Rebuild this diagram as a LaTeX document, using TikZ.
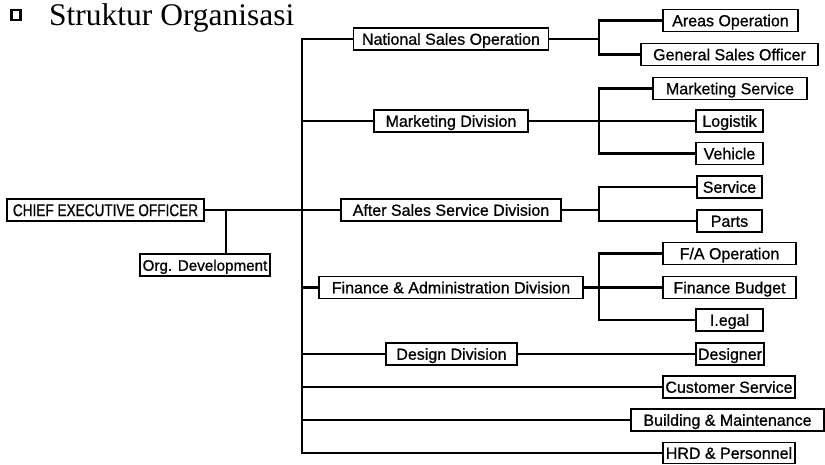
\documentclass[tikz,border=0pt]{standalone}
\usepackage{fontspec}
\setmainfont{Liberation Serif}
\newfontfamily\boxfont[FakeBold=0.8]{Liberation Sans}
\newfontfamily\narrowfont[FakeStretch=0.8,FakeBold=0.8]{Liberation Sans}
\usepackage{tikz}
\usetikzlibrary{calc}
\newcommand{\boxtext}{\boxfont\fontsize{16}{16}\selectfont}

\begin{document}
\begin{tikzpicture}[x=1pt, y=-1pt,
  unit/.style={draw, line width=1.6pt, fill=white, inner sep=0pt, minimum height=22pt,
    text height=11.5pt, text depth=0pt, font=\boxtext},
  link/.style={line width=2.8pt}]
  \useasboundingbox (0,0) rectangle (825,464);

  % heading
  \node[draw, line width=2.8pt, minimum width=9pt, minimum height=10pt, inner sep=0pt] (bullet) at (16,15) {};
  \node[anchor=base west, inner sep=0pt, font=\fontsize{31.5}{32}\selectfont] (title) at (49,25) {Struktur Organisasi};

  % top level
  \node[unit, minimum width=197pt, text height=12.2pt, font=\narrowfont\fontsize{17}{17}\selectfont] (ceo) at (105.5,210) {CHIEF EXECUTIVE OFFICER};
  \node[unit, minimum width=130pt, font=\boxfont\fontsize{15.2}{16}\selectfont] (org) at (205,265) {Org. Development};

  % divisions
  \node[unit, minimum width=195pt] (nso) at (451,39) {National Sales Operation};
  \node[unit, minimum width=154pt] (mkt) at (451,121) {Marketing Division};
  \node[unit, minimum width=220pt] (asd) at (451,210) {After Sales Service Division};
  \node[unit, minimum width=264pt] (fad) at (451,287.5) {Finance \& Administration Division};
  \node[unit, minimum width=131pt] (design) at (451.5,354) {Design Division};

  % departments
  \node[unit, minimum width=135pt] (areas) at (730.5,20.5) {Areas Operation};
  \node[unit, minimum width=177pt] (gso) at (729.5,54.5) {General Sales Officer};
  \node[unit, minimum width=154pt] (mktsvc) at (730,88.5) {Marketing Service};
  \node[unit, minimum width=67pt] (logistik) at (729.5,121) {Logistik};
  \node[unit, minimum width=67pt] (vehicle) at (729.5,153.5) {Vehicle};
  \node[unit, minimum width=65pt] (service) at (729.5,187) {Service};
  \node[unit, minimum width=65pt] (parts) at (729.5,221) {Parts};
  \node[unit, minimum width=133pt] (fa) at (729.5,253.5) {F/A Operation};
  \node[unit, minimum width=133pt] (budget) at (729.5,287.5) {Finance Budget};
  \node[unit, minimum width=67pt] (legal) at (729.5,320) {I.egal};
  \node[unit, minimum width=68pt] (designer) at (730,354) {Designer};
  \node[unit, minimum width=132pt] (cs) at (729,387) {Customer Service};
  \node[unit, minimum width=193pt] (bm) at (727.5,420) {Building \& Maintenance};
  \node[unit, minimum width=132pt, minimum height=21pt] (hrd) at (729,453) {HRD \& Personnel};

  \coordinate (spine) at (302,0);
  \coordinate (fork) at (599,0);
  \coordinate (orgtap) at (226,210);

  % spine and its stubs
  \draw[link] (nso.west) -| (spine |- hrd.west) -- (hrd.west);
  \draw[link] (spine |- mkt.west) -- (mkt.west);
  \draw[link] (ceo.east) -- (asd.west);
  \draw[link] (orgtap) -- (orgtap |- org.north);
  \draw[link] (spine |- fad.west) -- (fad.west);
  \draw[link] (spine |- design.west) -- (design.west);
  \draw[link] (spine |- cs.west) -- (cs.west);
  \draw[link] (spine |- bm.west) -- (bm.west);

  % forks to departments
  \draw[link] (nso.east) -- (fork |- nso.east);
  \draw[link] (areas.west) -| (fork |- gso.west) -- (gso.west);
  \draw[link] (mkt.east) -- (logistik.west);
  \draw[link] (mktsvc.west) -| (fork |- vehicle.west) -- (vehicle.west);
  \draw[link] (asd.east) -- (fork |- asd.east);
  \draw[link] (service.west) -| (fork |- parts.west) -- (parts.west);
  \draw[link] (fad.east) -- (budget.west);
  \draw[link] (fa.west) -| (fork |- legal.west) -- (legal.west);
  \draw[link] (design.east) -- (designer.west);
\end{tikzpicture}
\end{document}
